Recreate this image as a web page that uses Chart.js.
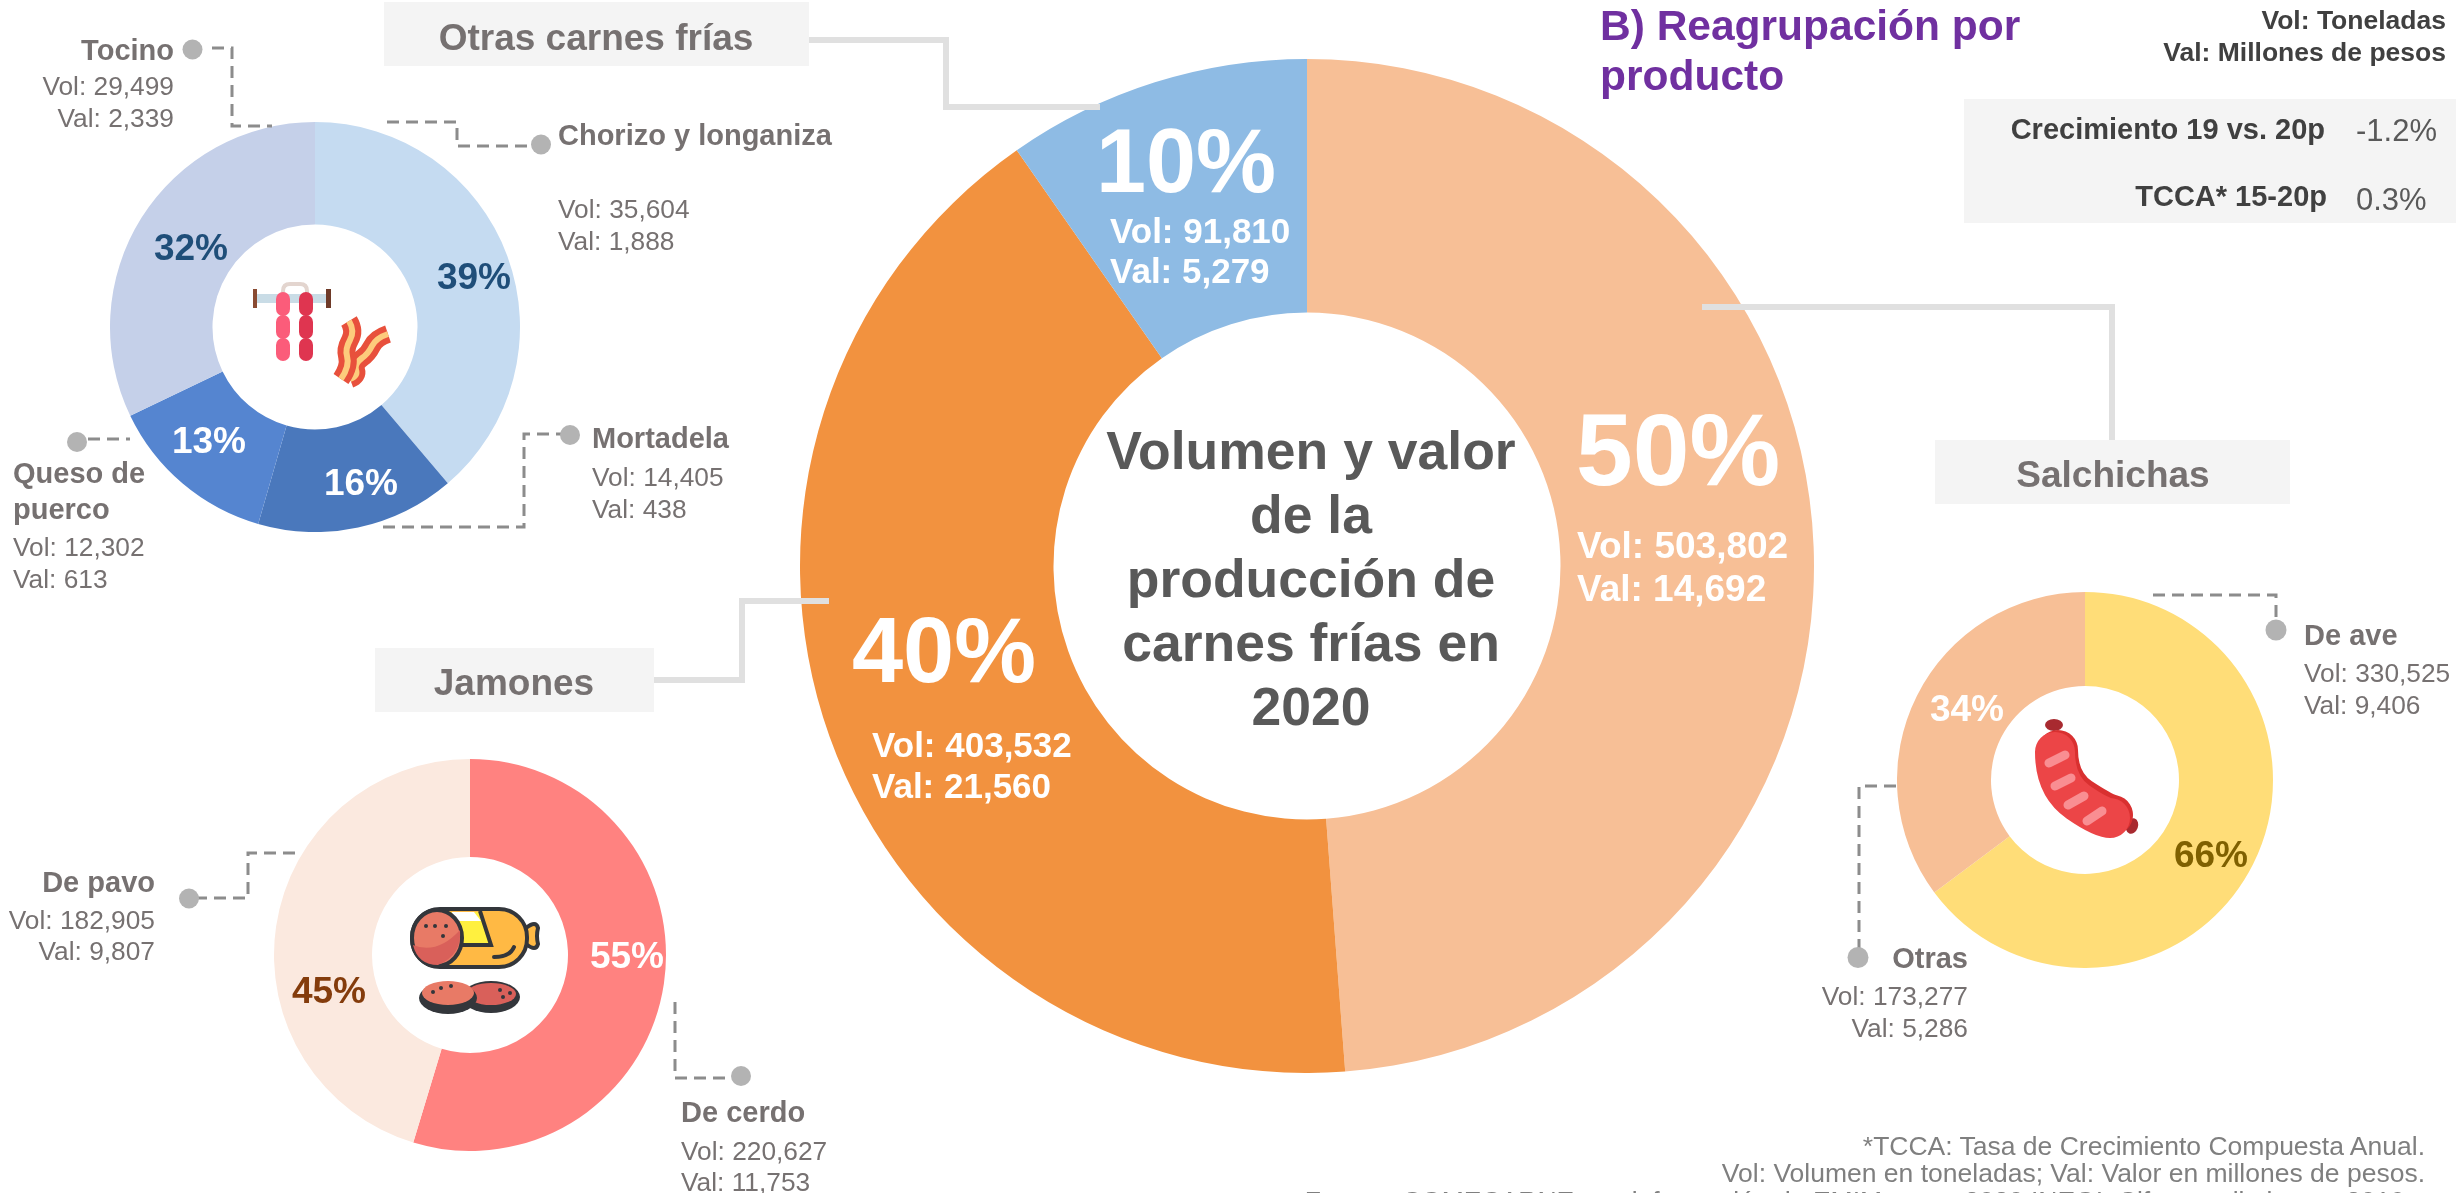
<!DOCTYPE html>
<html>
<head>
<meta charset="utf-8">
<title>Volumen y valor de la producción de carnes frías en 2020</title>
<script src="https://cdn.jsdelivr.net/npm/chart.js@4"></script>
<style>
  html, body { margin: 0; padding: 0; background: #fff; }
  #page { position: relative; width: 2456px; height: 1193px; overflow: hidden; font-family: "Liberation Sans", Arial, sans-serif; }
  #page canvas { position: absolute; }
  #page svg { position: absolute; left: 0; top: 0; }
  .box { position: absolute; background: #f4f4f4; }
  .txt { position: absolute; white-space: nowrap; line-height: 1; }
</style>
</head>
<body>
<div id="page"></div>
<script>
// Main ring: shares, they do not follow the volumes exactly
const mainLabels = ['Salchichas', 'Jamones', 'Otras carnes frías'];
const mainShares = [48.8, 41.5, 9.7];
const mainColors = ['#F7BF96', '#F2923F', '#8EBBE4'];

const otrasLabels = ['Chorizo y longaniza', 'Mortadela', 'Queso de puerco', 'Tocino'];
const otrasVol = [35604, 14405, 12302, 29499];
const otrasColors = ['#C5DBF1', '#4A78BC', '#5585D0', '#C5D0E9'];

const jamonesLabels = ['De cerdo', 'De pavo'];
const jamonesVol = [220627, 182905];
const jamonesColors = ['#FF8280', '#FBE9DF'];

const salchichasLabels = ['De ave', 'Otras'];
const salchichasShares = [64.8, 35.2];
const salchichasColors = ['#FFDD78', '#F7BF96'];

const GRAY = '#767171';
const page = document.getElementById('page');

function addRing(id, cx, cy, r, labels, values, colors) {
  const canvas = document.createElement('canvas');
  canvas.id = id;
  canvas.width = r * 2;
  canvas.height = r * 2;
  canvas.style.left = (cx - r) + 'px';
  canvas.style.top = (cy - r) + 'px';
  page.appendChild(canvas);
  new Chart(canvas.getContext('2d'), {
    type: 'doughnut',
    data: { labels: labels, datasets: [{ data: values, backgroundColor: colors, borderWidth: 0 }] },
    options: {
      responsive: false,
      animation: false,
      cutout: '50%',
      layout: { padding: 0 },
      plugins: { legend: { display: false }, tooltip: { enabled: false } }
    }
  });
}

function addBox(x1, y1, x2, y2) {
  const d = document.createElement('div');
  d.className = 'box';
  d.style.cssText = `left:${x1}px;top:${y1}px;width:${x2 - x1}px;height:${y2 - y1}px`;
  page.appendChild(d);
}

// anchor: 'l', 'r' or 'c' on x, y is the middle of the line
function addText(str, x, y, size, bold, color, anchor) {
  const d = document.createElement('div');
  d.className = 'txt';
  d.textContent = str;
  const tx = anchor === 'r' ? '-100%' : anchor === 'c' ? '-50%' : '0';
  d.style.cssText = `left:${x}px;top:${y}px;font-size:${size}px;font-weight:${bold ? 700 : 400};color:${color};transform:translate(${tx},-50%)`;
  page.appendChild(d);
}

function addName(lines, vol, val, x, ys, anchor) {
  lines.forEach((line, i) => addText(line, x, ys[i], 29, true, GRAY, anchor));
  addText('Vol: ' + vol, x, ys[lines.length], 26.3, false, GRAY, anchor);
  addText('Val: ' + val, x, ys[lines.length + 1], 26.3, false, GRAY, anchor);
}

addRing('ringMain', 1307, 566, 507, mainLabels, mainShares, mainColors);
addRing('ringOtras', 315, 327, 205, otrasLabels, otrasVol, otrasColors);
addRing('ringJamones', 470, 955, 196, jamonesLabels, jamonesVol, jamonesColors);
addRing('ringSalchichas', 2085, 780, 188, salchichasLabels, salchichasShares, salchichasColors);

// Header boxes
addBox(384, 2, 809, 66);
addBox(375, 648, 654, 712);
addBox(1935, 440, 2290, 504);
addBox(1964, 99, 2456, 223);

// Connector lines, dots and the small icons in the ring holes
const svg = `
<svg xmlns="http://www.w3.org/2000/svg" width="2456" height="1193">
  <g fill="none" stroke="#E0E0E0" stroke-width="6">
    <path d="M809 40H946V107H1100"/>
    <path d="M1702 307H2112V440"/>
    <path d="M654 680H742V601H829"/>
  </g>
  <g fill="none" stroke="#8C8C8C" stroke-width="3" stroke-dasharray="12 7">
    <path d="M212 48H232V126H272"/>
    <path d="M387 122H457V146H535"/>
    <path d="M383 527H524V434H565"/>
    <path d="M88 439H130"/>
    <path d="M195 898H248V853H302"/>
    <path d="M675 1002V1078H735"/>
    <path d="M2153 595H2276V625"/>
    <path d="M1896 786H1859V952"/>
  </g>
  <g fill="#B3B3B3">
    <circle cx="192.500" cy="49.500" r="10"/>
    <circle cx="541" cy="144.500" r="10"/>
    <circle cx="570" cy="435" r="10"/>
    <circle cx="77" cy="442" r="10"/>
    <circle cx="189" cy="898.500" r="10"/>
    <circle cx="741" cy="1076" r="10"/>
    <circle cx="2276" cy="630" r="10.500"/>
    <circle cx="1858" cy="957.500" r="10.500"/>
  </g>

  <!-- chorizo links -->
  <rect x="253" y="289" width="4" height="19" fill="#8A4B32"/>
  <rect x="326" y="289" width="5" height="19" fill="#6E3A28"/>
  <rect x="257" y="294" width="69" height="9" fill="#C9DCE6"/>
  <path d="M283 294V291Q283 284 290 284H300Q307 284 307 291V294" fill="none" stroke="#E3D5CF" stroke-width="4"/>
  <g fill="#FB5C7A">
    <rect x="276" y="292" width="14" height="24" rx="7"/>
    <rect x="276" y="315" width="14" height="24" rx="7"/>
    <rect x="276" y="338" width="14" height="23" rx="7"/>
  </g>
  <g fill="#DF3550">
    <rect x="299" y="292" width="14" height="24" rx="7"/>
    <rect x="299" y="315" width="14" height="24" rx="7"/>
    <rect x="299" y="338" width="14" height="23" rx="7"/>
  </g>
  <!-- bacon -->
  <g fill="none" stroke-linecap="butt">
    <path d="M388 334Q376 338 372 346T362 358Q354 364 356 370T350 379" stroke="#E8503C" stroke-width="18"/>
    <path d="M388 334Q376 338 372 346T362 358Q354 364 356 370T350 379" stroke="#FDCB7C" stroke-width="6"/>
    <path d="M349 321Q355 331 350 340T347 356Q350 366 341 379" stroke="#E8503C" stroke-width="18"/>
    <path d="M349 321Q355 331 350 340T347 356Q350 366 341 379" stroke="#FDCB7C" stroke-width="6"/>
  </g>

  <!-- salami -->
  <path d="M526 928Q536 920 538 928Q536 936 538 944Q536 952 526 944Z" fill="#FFB944" stroke="#33363B" stroke-width="4"/>
  <rect x="412" y="909" width="115" height="58" rx="28" fill="#FFB944" stroke="#33363B" stroke-width="4"/>
  <path d="M450 912H478L491 945H452Z" fill="#FFF03F"/>
  <path d="M452 912H474L481 921H452Z" fill="#fff"/>
  <path d="M480 911L491 945H458" fill="none" stroke="#33363B" stroke-width="4"/>
  <path d="M494 957Q510 957 514 947" fill="none" stroke="#33363B" stroke-width="4" stroke-linecap="round"/>
  <ellipse cx="437" cy="938" rx="25" ry="28" fill="#E87A66" stroke="#33363B" stroke-width="4"/>
  <path d="M413 945Q437 955 460 930Q462 955 438 965Q418 965 413 945Z" fill="#D9605A"/>
  <g fill="#33363B">
    <circle cx="426" cy="926" r="2"/><circle cx="435" cy="926" r="2"/><circle cx="446" cy="926" r="2"/><circle cx="443" cy="936" r="2"/>
  </g>
  <ellipse cx="491" cy="997" rx="29" ry="16" fill="#33363B"/>
  <ellipse cx="491" cy="994" rx="25" ry="11" fill="#D9605A"/>
  <ellipse cx="448" cy="998" rx="29" ry="16" fill="#33363B"/>
  <ellipse cx="448" cy="993" rx="26" ry="12" fill="#E87A66"/>
  <g fill="#33363B">
    <circle cx="433" cy="992" r="2"/><circle cx="441" cy="988" r="2"/><circle cx="451" cy="986" r="2"/>
    <circle cx="500" cy="990" r="2"/><circle cx="510" cy="993" r="2"/><circle cx="503" cy="997" r="2"/>
  </g>

  <!-- sausage -->
  <ellipse cx="2054" cy="725" rx="9" ry="6" fill="#A82A30"/>
  <ellipse cx="2132" cy="826" rx="6" ry="8" fill="#A82A30" transform="rotate(20 2132 826)"/>
  <path d="M2058 750Q2058 783 2081 798T2113 815" fill="none" stroke="#D93030" stroke-width="40" stroke-linecap="round"/>
  <path d="M2055 752Q2055 786 2078 802T2110 818" fill="none" stroke="#EC4547" stroke-width="40" stroke-linecap="round"/>
  <g stroke="#F98E92" stroke-width="9" stroke-linecap="round">
    <path d="M2049 763L2065 755"/>
    <path d="M2055 786L2071 778"/>
    <path d="M2068 805L2084 796"/>
    <path d="M2087 821L2102 811"/>
  </g>
</svg>`;
page.insertAdjacentHTML('beforeend', svg);

// Main ring texts
addText('50%', 1678, 450, 102, true, '#fff', 'c');
addText('Vol: 503,802', 1577, 545, 37, true, '#fff', 'l');
addText('Val: 14,692', 1577, 588, 37, true, '#fff', 'l');
addText('40%', 944, 650, 92, true, '#fff', 'c');
addText('Vol: 403,532', 872, 744, 35, true, '#fff', 'l');
addText('Val: 21,560', 872, 785, 35, true, '#fff', 'l');
addText('10%', 1186, 161, 90, true, '#fff', 'c');
addText('Vol: 91,810', 1110, 230, 35, true, '#fff', 'l');
addText('Val: 5,279', 1110, 270, 35, true, '#fff', 'l');
['Volumen y valor', 'de la', 'producción de', 'carnes frías en', '2020'].forEach((line, i) => {
  addText(line, 1311, 451 + i * 64, 53.5, true, '#595959', 'c');
});

// Box headers
addText('Otras carnes frías', 596, 37, 37, true, GRAY, 'c');
addText('Jamones', 514, 682, 37, true, GRAY, 'c');
addText('Salchichas', 2113, 474, 37, true, GRAY, 'c');

// Percent labels on the small rings
addText('39%', 474, 276, 37, true, '#1F4E79', 'c');
addText('32%', 191, 247, 37, true, '#1F4E79', 'c');
addText('13%', 209, 440, 37, true, '#fff', 'c');
addText('16%', 361, 482, 37, true, '#fff', 'c');
addText('55%', 627, 955, 37, true, '#fff', 'c');
addText('45%', 329, 990, 37, true, '#843C0C', 'c');
addText('34%', 1967, 708, 37, true, '#fff', 'c');
addText('66%', 2211, 854, 37, true, '#7F6000', 'c');

// Category names with volume and value
addName(['Tocino'], '29,499', '2,339', 174, [50, 86, 118], 'r');
addName(['Chorizo y longaniza'], '35,604', '1,888', 558, [135, 209, 241], 'l');
addName(['Mortadela'], '14,405', '438', 592, [438, 477, 509], 'l');
addName(['Queso de', 'puerco'], '12,302', '613', 13, [473, 509, 547, 579], 'l');
addName(['De pavo'], '182,905', '9,807', 155, [882, 920, 951], 'r');
addName(['De cerdo'], '220,627', '11,753', 681, [1112, 1151, 1182], 'l');
addName(['De ave'], '330,525', '9,406', 2304, [635, 673, 705], 'l');
addName(['Otras'], '173,277', '5,286', 1968, [958, 996, 1028], 'r');

// Title and top right notes
addText('B) Reagrupación por', 1600, 26, 42.5, true, '#7030A0', 'l');
addText('producto', 1600, 76, 42.5, true, '#7030A0', 'l');
addText('Vol: Toneladas', 2446, 20, 26.5, true, '#404040', 'r');
addText('Val: Millones de pesos', 2446, 52, 26.5, true, '#404040', 'r');
addText('Crecimiento 19 vs. 20p', 2325, 129, 29, true, '#404040', 'r');
addText('-1.2%', 2356, 130, 31, false, '#595959', 'l');
addText('TCCA* 15-20p', 2327, 196, 29, true, '#404040', 'r');
addText('0.3%', 2356, 199, 31, false, '#595959', 'l');

// Footnotes, the last line is cut by the picture edge
addText('*TCCA: Tasa de Crecimiento Compuesta Anual.', 2425, 1146, 26.5, false, '#7F7F7F', 'r');
addText('Vol: Volumen en toneladas; Val: Valor en millones de pesos.', 2425, 1173, 26.5, false, '#7F7F7F', 'r');
addText('Fuente: COMECARNE con información de EMIM enero 2020 INEGI. Cifras preliminares 2019', 2405, 1201, 26.5, false, '#7F7F7F', 'r');
</script>
</body>
</html>
